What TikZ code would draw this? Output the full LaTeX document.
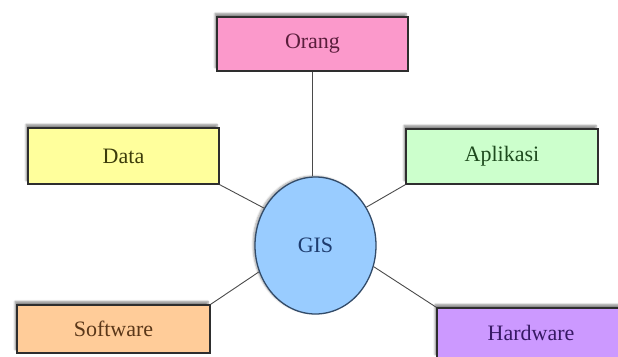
\documentclass[tikz,border=0pt]{standalone}
\usepackage{fontspec}
\setmainfont{Liberation Serif}
\usetikzlibrary{shapes.geometric,shadows.blur}
\definecolor{pinkfill}{HTML}{FB99CB}
\definecolor{yellowfill}{HTML}{FFFF9C}
\definecolor{greenfill}{HTML}{CCFFCC}
\definecolor{bluefill}{HTML}{99CCFF}
\definecolor{orangefill}{HTML}{FFCC99}
\definecolor{purplefill}{HTML}{CC99FF}
\definecolor{edgecol}{HTML}{2E2E2E}
\definecolor{linecol}{HTML}{4A4A4A}
\definecolor{orangtext}{HTML}{5A1E3C}
\definecolor{datatext}{HTML}{3C3C0A}
\definecolor{aplikasitext}{HTML}{1E4B1E}
\definecolor{softwaretext}{HTML}{5A3719}
\definecolor{hardwaretext}{HTML}{371964}
\definecolor{gistext}{HTML}{1E3C6E}
\definecolor{gisedge}{HTML}{324B69}
\tikzset{
  box/.style={draw=edgecol, line width=1.3pt, minimum width=#1, inner sep=0pt,
    font=\fontsize{22}{25}\selectfont,
    blur shadow={shadow xshift=-2pt, shadow yshift=3.5pt, shadow blur steps=5, shadow opacity=45}},
  conn/.style={draw=linecol, line width=0.9pt}
}
\begin{document}
\begin{tikzpicture}[x=1pt,y=-1pt]
\useasboundingbox (0,0) rectangle (618,356);
\begin{scope}
\clip (0,0) rectangle (618,356);
\node[box=191pt, minimum height=54pt, fill=pinkfill, text=orangtext] (orang) at (312.5,44) {Orang};
\node[box=191pt, minimum height=56pt, fill=yellowfill, text=datatext] (data) at (123.5,156) {Data};
\node[box=192pt, minimum height=55pt, fill=greenfill, text=aplikasitext] (aplikasi) at (502,156.5) {Aplikasi};
\node[box=193pt, minimum height=48pt, fill=orangefill, text=softwaretext] (software) at (113.5,329) {Software};
\node[box=188pt, minimum height=50pt, fill=purplefill, text=hardwaretext] (hardware) at (531,333) {Hardware};
\node[ellipse, draw=gisedge, line width=1.3pt, fill=bluefill,
  minimum width=121pt, minimum height=137pt, inner sep=0pt,
  font=\fontsize{22}{25}\selectfont, text=gistext,
  blur shadow={shadow xshift=-2pt, shadow yshift=1pt, shadow blur steps=5, shadow opacity=35}] (gis) at (315.5,245.5) {GIS};
\draw[conn] (orang.south) -- (orang.south |- gis.north);
\draw[conn] (data.south east) -- (gis.144);
\draw[conn] (aplikasi.south west) -- (gis.37);
\draw[conn] (software.north east) -- (gis.205);
\draw[conn] (hardware.north west) -- (gis.340);
\end{scope}
\end{tikzpicture}
\end{document}
